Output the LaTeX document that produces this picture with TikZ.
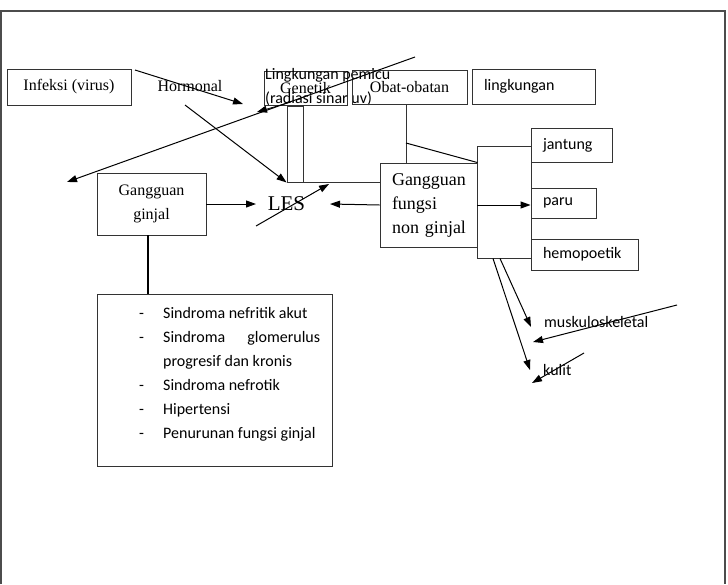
\documentclass[tikz,border=0pt]{standalone}
\usepackage{fontspec}
\setmainfont{Liberation Serif}
\newfontfamily\calibfont{Carlito}
\usetikzlibrary{arrows.meta}
\begin{document}
\begin{tikzpicture}[x=1pt,y=-1pt,
  box/.style={draw=black!80, line width=0.9pt, inner sep=0pt},
  serifsix/.style={font=\fontsize{16}{24}\selectfont},
  sanssix/.style={font=\calibfont\fontsize{16}{24}\selectfont},
  lbox/.style={box, sanssix, inner xsep=12pt, align=left},
  arr/.style={-{Triangle[length=10pt,width=7pt]}, line width=1pt},
  ln/.style={line width=1pt, black!80}
]
\useasboundingbox (0,0) rectangle (728,584);
\draw[line width=1.2pt, black!70] (1,584) -- (1,11) -- (725,11) -- (725,584);

% top row
\node[box, serifsix, minimum width=124pt, minimum height=36pt] (inf) at (69,87) {Infeksi (virus)};
\node[serifsix] (hor) at (190,86) {Hormonal};
\node[box, serifsix, minimum width=83pt, minimum height=34pt] (gen) at (305.5,88) {Genetik};
\node[sanssix, anchor=west, align=left, inner sep=0pt] (lpm) at (265,87) {Lingkungan pemicu\\(radiasi sinar uv)};
\node[box, serifsix, minimum width=115pt, minimum height=34pt] (obat) at (409.5,87) {Obat-obatan};
\node[lbox, minimum width=123pt, text width=99pt, minimum height=35pt] (ling) at (533.5,86.5) {lingkungan};

% middle
\node[box, minimum width=16pt, minimum height=76pt] (nar) at (295,144) {};
\node[box, minimum width=54pt, minimum height=112pt] (brk) at (504,202) {};
\node[box, font=\fontsize{18}{24}\selectfont, minimum width=97pt, minimum height=84pt, text width=73pt, inner xsep=12pt, align=left] (gfn) at (428.5,205) {\mbox{Gangguan}\\\mbox{fungsi}\\\mbox{non ginjal}};
\node[lbox, minimum width=81pt, text width=57pt, minimum height=34pt] (jan) at (571.5,145) {jantung};
\node[lbox, minimum width=65pt, text width=41pt, minimum height=30pt] (paru) at (563.5,203) {paru};
\node[lbox, minimum width=107pt, text width=83pt, minimum height=31pt] (hemo) at (584.5,254.5) {hemopoetik};
\node[box, serifsix, minimum width=109pt, minimum height=62pt, align=center] (gg) at (151.5,204) {Gangguan\\ginjal};
\node[font=\fontsize{21}{24}\selectfont, inner sep=0pt] (les) at (286.5,204) {LES};
\coordinate (lesW) at (256,204);
\coordinate (lesE) at (330,204);

% list box
\node[box, minimum width=235pt, minimum height=172pt] (lst) at (214.5,380) {};
\node[sanssix, anchor=north west, inner sep=0pt] (lsttxt) at (139,301) {%
\begin{tabular}{@{}p{24pt}@{}l@{}}
- & Sindroma nefritik akut\\
- & \makebox[157pt][s]{Sindroma glomerulus}\\
  & progresif dan kronis\\
- & Sindroma nefrotik\\
- & Hipertensi\\
- & Penurunan fungsi ginjal
\end{tabular}};

\node[sanssix, anchor=west, inner sep=0pt] (musk) at (544,322) {muskuloskeletal};
\node[sanssix, anchor=west, inner sep=0pt] (kul) at (543,370) {kulit};

% coordinates for free ends
\coordinate (a1s) at (135,70);
\coordinate (a1e) at (243,104);
\coordinate (h1) at (185,105);
\coordinate (lg1) at (415,57);
\coordinate (lg2) at (67,182);
\coordinate (sm1) at (291,102);
\coordinate (sm2) at (257,112);
\coordinate (dg) at (406,143);
\coordinate (ls1) at (256,226);
\coordinate (ls2) at (329,184);
\coordinate (m1) at (531,327);
\coordinate (k1) at (530,370);
\coordinate (mx) at (677,305);
\coordinate (mxe) at (533,342);
\coordinate (kx) at (584,353);
\coordinate (kxe) at (532,383);

% connectors
\draw[arr] (a1s) -- (a1e);
\draw[arr] (h1) -- (nar.south west);
\draw[arr] (lg1) -- (lg2);
\draw[arr, line width=0.8pt] (sm1) -- (sm2);
\draw[ln] (nar.south east) -- (nar.south east -| gfn.west);
\draw[ln] ([xshift=-3.5pt]obat.south) -- ([xshift=-3.5pt]obat.south |- gfn.north);
\draw[ln, black] (dg) -- (gfn.north east);
\draw[arr] (gfn.east) -- (gfn.east -| paru.west);
\draw[arr] (gfn.west) -- (lesE);
\draw[arr] (gg.east) -- (lesW);
\draw[arr] (ls1) -- (ls2);
\draw[line width=2pt] ([xshift=-3.5pt]gg.south) -- ([xshift=-3.5pt]gg.south |- lst.north);
\draw[arr] ([xshift=-4pt]brk.south) -- (m1);
\draw[arr] ([xshift=-11pt]brk.south) -- (k1);
\draw[arr] (mx) -- (mxe);
\draw[arr] (kx) -- (kxe);
\end{tikzpicture}
\end{document}
